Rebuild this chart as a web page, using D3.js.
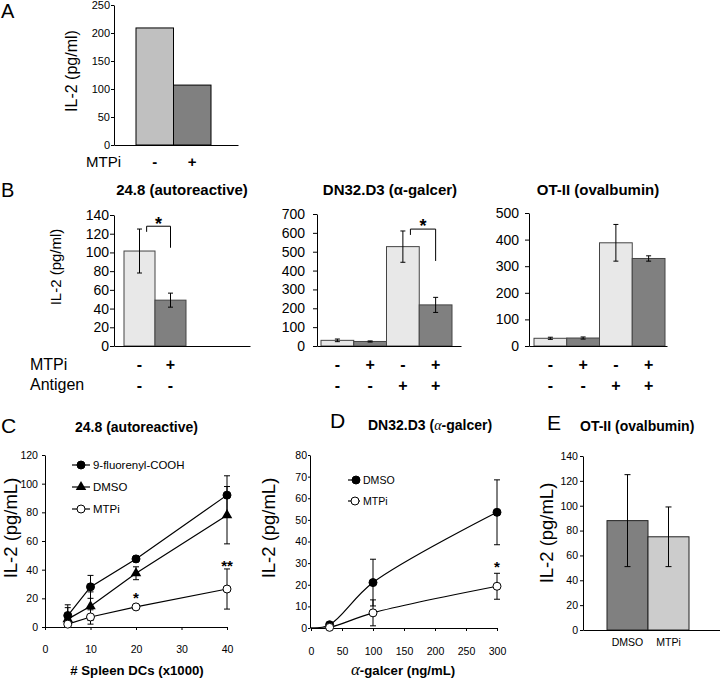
<!DOCTYPE html>
<html><head><meta charset="utf-8">
<script src="https://cdn.jsdelivr.net/npm/d3@7"></script>
<style>body{margin:0;background:#fff}</style>
</head><body><svg id="chart" width="720" height="683"></svg>
<script>
// ---------------- data ----------------
const aCategories = ["-", "+"];
const aValues = [209, 107];
const aTicks = [0, 50, 100, 150, 200, 250];

const bTitles = ["24.8 (autoreactive)", "DN32.D3 (α-galcer)", "OT-II (ovalbumin)"];
const b1MTPi = ["-", "+"];
const b1Antigen = ["-", "-"];
const b1Values = [101.5, 49];
const b1Errors = [23.5, 7.5];
const b1Ticks = [0, 20, 40, 60, 80, 100, 120, 140];
const b1Bracket = [128, 122, 105, 135]; // top, left end, right end, star

const b2MTPi = ["-", "+", "-", "+"];
const b2Antigen = ["-", "-", "+", "+"];
const b2Values = [30, 24, 527, 218];
const b2Errors = [7, 3, 83, 40];
const b2Ticks = [0, 100, 200, 300, 400, 500, 600, 700];
const b2Bracket = [620, 589, 451, 658];

const b3MTPi = ["-", "+", "-", "+"];
const b3Antigen = ["-", "-", "+", "+"];
const b3Values = [29, 30, 388, 329];
const b3Errors = [4, 4, 69, 10];
const b3Ticks = [0, 100, 200, 300, 400, 500];

const cSpleenDCs = [5, 10, 20, 40];
const cFluorenyl = [8, 28, 47.5, 92];
const cFluorenylErr = [7.5, 8, 2, 13.5];
const cDMSO = [5.5, 14.5, 37.5, 78];
const cDMSOErr = [8, 10, 4.5, 20];
const cMTPi = [2, 7, 14, 26.5];
const cMTPiErr = [2, 5, 1.5, 14];
const cXTicks = [0, 10, 20, 30, 40];
const cYTicks = [0, 20, 40, 60, 80, 100, 120];
const cStars = [{x: 20, y: 22.9, label: "*"}, {x: 40, y: 45.2, label: "**"}];

const dGalcer = [0, 30, 100, 300];
const dDMSO = [0, 1.5, 21, 53.5];
const dDMSOErr = [0, 1, 10.8, 15];
const dMTPi = [0, 0.3, 7, 19.3];
const dMTPiErr = [0, 0.5, 6, 6];
const dXTicks = [0, 50, 100, 150, 200, 250, 300];
const dYTicks = [0, 10, 20, 30, 40, 50, 60, 70, 80];
const dStars = [{x: 300, y: 30.2, label: "*"}];

const eCategories = ["DMSO", "MTPi"];
const eValues = [88, 75];
const eErrors = [37, 24];
const eTicks = [0, 20, 40, 60, 80, 100, 120, 140];

// ---------------- setup ----------------
const SANS = '"Liberation Sans", Arial, sans-serif';
const hasNarrow = (() => {
  const c = document.createElement("canvas").getContext("2d");
  c.font = '20px "Liberation Sans Narrow", monospace';
  const w1 = c.measureText("abcdefghijklm").width;
  c.font = '20px monospace';
  const w2 = c.measureText("abcdefghijklm").width;
  return Math.abs(w1 - w2) > 0.5;
})();
const NARROW = hasNarrow ? '"Liberation Sans Narrow", "Arial Narrow", sans-serif' : SANS;
const NS = hasNarrow ? 1 : 0.88; // size factor if narrow font missing

const LIGHT_A = "#c0c0c0", DARK = "#808080", LIGHT_B = "#e8e8e8", LIGHT_E = "#cccccc";
const svg = d3.select("#chart");
svg.append("rect").attr("width", 720).attr("height", 683).attr("fill", "#fff");

function txt(g, x, y, s, o = {}) {
  const t = g.append("text").attr("x", x).attr("y", y).text(s)
    .attr("font-family", o.font || SANS).attr("font-size", o.size || 12)
    .attr("font-weight", o.weight || "normal").attr("fill", "#000")
    .attr("text-anchor", o.anchor || "start");
  return t;
}
function rotLabel(g, x, y, s, o) {
  return g.append("text").attr("transform", `translate(${x},${y}) rotate(-90)`)
    .attr("text-anchor", "middle").attr("font-family", o.font || SANS)
    .attr("font-size", o.size).attr("fill", "#000").text(s);
}
function styleAxis(sel, font, size) {
  sel.attr("font-family", font).attr("font-size", size);
  sel.select(".domain").attr("stroke", "#000");
  sel.selectAll(".tick line").attr("stroke", "#000");
  sel.selectAll(".tick text").attr("fill", "#000");
  return sel;
}
function yAxis(g, scale, x, ticks, tickSize, pad, font, size) {
  const ax = d3.axisLeft(scale).tickValues(ticks).tickSize(tickSize).tickSizeOuter(0).tickPadding(pad);
  return styleAxis(g.append("g").attr("transform", `translate(${x},0)`).call(ax), font, size);
}
function baseLine(g, x0, x1, y) {
  const s = d3.scaleLinear().domain([0, 1]).range([x0, x1]);
  const ax = d3.axisBottom(s).tickValues([]).tickSizeOuter(0);
  styleAxis(g.append("g").attr("transform", `translate(0,${y})`).call(ax), SANS, 10);
}
function bars(g, band, y, values, errors, colors, stroke, capW) {
  const idx = d3.range(values.length);
  g.selectAll(null).data(idx).join("rect")
    .attr("x", i => band(i)).attr("width", band.bandwidth())
    .attr("y", i => y(values[i])).attr("height", i => y(0) - y(values[i]))
    .attr("fill", i => colors[i]).attr("stroke", stroke).attr("stroke-width", 1);
  if (errors) {
    const cx = i => band(i) + band.bandwidth() / 2;
    g.selectAll(null).data(idx).join("path")
      .attr("d", i => {
        const t = y(values[i] + errors[i]), b = y(values[i] - errors[i]), c = cx(i);
        return `M${c},${t}V${b}M${c - capW},${t}H${c + capW}M${c - capW},${b}H${c + capW}`;
      })
      .attr("stroke", "#000").attr("stroke-width", 1).attr("fill", "none");
  }
}
function bracket(g, band, y, br, i0, i1) {
  const xl = band(i0) + band.bandwidth() * 0.73, xr = band(i1) + band.bandwidth() / 2;
  g.append("path").attr("d", `M${xl},${y(br[1])}V${y(br[0])}H${xr}V${y(br[2])}`)
    .attr("stroke", "#000").attr("fill", "none").attr("stroke-width", 1);
  txt(g, (xl + xr) / 2, y(br[3]) + 10.5, "*", {size: 18, weight: "bold", anchor: "middle"});
}

// ---------------- Panel A ----------------
{
  const g = svg.append("g");
  const y = d3.scaleLinear().domain([0, 250]).range([145, 5]);
  const band = d3.scaleBand().domain(d3.range(aValues.length)).range([136, 211]).padding(0);
  txt(g, 1, 18, "A", {size: 20});
  bars(g, band, y, aValues, null, [LIGHT_A, DARK], "#000", 0);
  yAxis(g, y, 114, aTicks, 3, 1, SANS, 11);
  baseLine(g, 114, 238, 145);
  rotLabel(g, 77, 71, "IL-2 (pg/ml)", {size: 16});
  txt(g, 86, 167, "MTPi", {size: 15});
  aCategories.forEach((c, i) => txt(g, band(i) + band.bandwidth() / 2, 167, c, {size: 15, weight: "bold", anchor: "middle"}));
}

// ---------------- Panel B ----------------
txt(svg, 1, 197, "B", {size: 20});
function bPanel(o) {
  const g = svg.append("g");
  const y = d3.scaleLinear().domain([0, o.ticks[o.ticks.length - 1]]).range([346, o.top]);
  const band = d3.scaleBand().domain(d3.range(o.values.length)).range(o.band).padding(0);
  txt(g, o.titleX, 195, o.title, {size: 15, weight: "bold", anchor: "middle"});
  bars(g, band, y, o.values, o.errors, o.values.map((v, i) => i % 2 ? DARK : LIGHT_B), "#444", 2.5);
  yAxis(g, y, o.axisX, o.ticks, 4, o.pad, SANS, 14);
  baseLine(g, o.axisX, o.axisEnd, 346);
  if (o.bracket) bracket(g, band, y, o.bracket, o.bi[0], o.bi[1]);
  o.mtpi.forEach((c, i) => txt(g, band(i) + band.bandwidth() / 2, 370, c, {size: 16, weight: "bold", anchor: "middle"}));
  o.antigen.forEach((c, i) => txt(g, band(i) + band.bandwidth() / 2, 391, c, {size: 16, weight: "bold", anchor: "middle"}));
  return g;
}
{
  const g = bPanel({title: bTitles[0], titleX: 182, ticks: b1Ticks, top: 215, values: b1Values, errors: b1Errors,
    band: [124, 186], axisX: 114, axisEnd: 250, pad: 1, bracket: b1Bracket, bi: [0, 1], mtpi: b1MTPi, antigen: b1Antigen});
  rotLabel(g, 61, 267, "IL-2 (pg/ml)", {size: 15});
  txt(g, 30, 370, "MTPi", {size: 16});
  txt(g, 30, 390, "Antigen", {size: 16});
}
bPanel({title: bTitles[1], titleX: 390, ticks: b2Ticks, top: 214, values: b2Values, errors: b2Errors,
  band: [321, 452], axisX: 317, axisEnd: 461, pad: 8, bracket: b2Bracket, bi: [2, 3], mtpi: b2MTPi, antigen: b2Antigen});
bPanel({title: bTitles[2], titleX: 598, ticks: b3Ticks, top: 213, values: b3Values, errors: b3Errors,
  band: [534, 665], axisX: 529, axisEnd: 667, pad: 6, bracket: null, mtpi: b3MTPi, antigen: b3Antigen});

// ---------------- markers ----------------
function marker(g, kind, x, y) {
  if (kind === "tri") {
    g.append("path").attr("d", d3.symbol(d3.symbolTriangle, 48)()).attr("transform", `translate(${x},${y})`).attr("fill", "#000");
  } else {
    g.append("circle").attr("cx", x).attr("cy", y).attr("r", 4)
      .attr("fill", kind === "open" ? "#fff" : "#000").attr("stroke", "#000").attr("stroke-width", 1);
  }
}
function series(g, x, y, xs, vals, errs, kind, curve, skipZero) {
  const pts = xs.map((v, i) => [x(v), y(vals[i])]);
  g.append("path").attr("d", d3.line().curve(curve)(pts)).attr("fill", "none").attr("stroke", "#000").attr("stroke-width", 1.2);
  xs.forEach((v, i) => {
    if (skipZero && v === 0) return;
    const cx = x(v), t = y(vals[i] + errs[i]), b = y(Math.max(0, vals[i] - errs[i]));
    if (errs[i] > 0.8) g.append("path").attr("d", `M${cx},${t}V${b}M${cx - 3},${t}H${cx + 3}M${cx - 3},${b}H${cx + 3}`)
      .attr("stroke", "#000").attr("fill", "none");
  });
  xs.forEach((v, i) => { if (!(skipZero && v === 0)) marker(g, kind, x(v), y(vals[i])); });
}
function legend(g, x0, x1, xm, yy, kind, label, size) {
  g.append("line").attr("x1", x0).attr("x2", x1).attr("y1", yy).attr("y2", yy).attr("stroke", "#000").attr("stroke-width", 1.2);
  marker(g, kind, xm, yy);
  txt(g, x1 + 3, yy + size * 0.36, label, {font: NARROW, size: size});
}

// ---------------- Panel C ----------------
{
  const g = svg.append("g");
  const x = d3.scaleLinear().domain([0, 40]).range([45, 227]);
  const y = d3.scaleLinear().domain([0, 120]).range([627, 455]);
  txt(g, 1, 433, "C", {font: NARROW, size: 24 * NS});
  txt(g, 75, 432, "24.8 (autoreactive)", {size: 14, weight: "bold"});
  yAxis(g, y, 45, cYTicks, 3, 4, NARROW, 12 * NS);
  const ax = d3.axisBottom(x).tickValues(cXTicks).tickSize(3).tickSizeOuter(0).tickPadding(16);
  styleAxis(g.append("g").attr("transform", "translate(0,627)").call(ax), NARROW, 12 * NS);
  series(g, x, y, cSpleenDCs, cFluorenyl, cFluorenylErr, "fill", d3.curveLinear);
  series(g, x, y, cSpleenDCs, cDMSO, cDMSOErr, "tri", d3.curveLinear);
  series(g, x, y, cSpleenDCs, cMTPi, cMTPiErr, "open", d3.curveLinear);
  legend(g, 72, 90, 81, 465, "fill", "9-fluorenyl-COOH", 13 * NS);
  legend(g, 72, 90, 81, 487, "tri", "DMSO", 13 * NS);
  legend(g, 72, 90, 81, 509, "open", "MTPi", 13 * NS);
  cStars.forEach(s => txt(g, x(s.x), y(s.y) + 9, s.label, {size: 15, weight: "bold", anchor: "middle"}));
  rotLabel(g, 17, 528, "IL-2 (pg/mL)", {font: NARROW, size: 21 * NS});
  txt(g, 137, 675, "# Spleen DCs (x1000)", {font: NARROW, size: 15 * NS, weight: "bold", anchor: "middle"});
}

// ---------------- Panel D ----------------
{
  const g = svg.append("g");
  const x = d3.scaleLinear().domain([0, 300]).range([311, 497]);
  const y = d3.scaleLinear().domain([0, 80]).range([628, 455]);
  txt(g, 330, 428, "D", {font: NARROW, size: 24 * NS});
  const t = txt(g, 368, 430, "", {size: 14, weight: "bold"});
  t.append("tspan").text("DN32.D3 (");
  t.append("tspan").attr("font-family", '"Liberation Serif", serif').attr("font-weight", "normal").attr("font-style", "italic").text("α");
  t.append("tspan").text("-galcer)");
  yAxis(g, y, 310, dYTicks, 2, 1, NARROW, 12 * NS);
  const ax = d3.axisBottom(x).tickValues(dXTicks).tickSize(3).tickSizeOuter(0).tickPadding(17);
  styleAxis(g.append("g").attr("transform", "translate(0,628)").call(ax), NARROW, 12 * NS);
  series(g, x, y, dGalcer, dDMSO, dDMSOErr, "fill", d3.curveCatmullRom.alpha(0.5), true);
  series(g, x, y, dGalcer, dMTPi, dMTPiErr, "open", d3.curveCatmullRom.alpha(0.5), true);
  legend(g, 348, 360, 356, 480, "fill", "DMSO", 12 * NS);
  legend(g, 348, 360, 355, 501, "open", "MTPi", 12 * NS);
  dStars.forEach(s => txt(g, x(s.x), y(s.y) + 9, s.label, {size: 15, weight: "bold", anchor: "middle"}));
  rotLabel(g, 275, 528, "IL-2 (pg/mL)", {font: NARROW, size: 21 * NS});
  const xl = txt(g, 403, 675, "", {font: NARROW, size: 15 * NS, weight: "bold", anchor: "middle"});
  xl.append("tspan").attr("font-family", '"Liberation Serif", serif').attr("font-weight", "normal").attr("font-style", "italic").attr("font-size", 17).text("α");
  xl.append("tspan").text("-galcer (ng/mL)");
}

// ---------------- Panel E ----------------
{
  const g = svg.append("g");
  const y = d3.scaleLinear().domain([0, 140]).range([630, 456]);
  const band = d3.scaleBand().domain(eCategories).range([607, 689]).padding(0);
  txt(g, 547, 430, "E", {font: NARROW, size: 24 * NS});
  txt(g, 580, 431, "OT-II (ovalbumin)", {size: 14, weight: "bold"});
  const bandI = d3.scaleBand().domain(d3.range(eValues.length)).range([607, 689]).padding(0);
  bars(g, bandI, y, eValues, eErrors, [DARK, LIGHT_E], "#222", 3);
  yAxis(g, y, 583, eTicks, 3, 2, NARROW, 12 * NS);
  baseLine(g, 583, 720, 630);
  eCategories.forEach(c => txt(g, band(c) + band.bandwidth() / 2, 646, c, {font: NARROW, size: 12 * NS, anchor: "middle"}));
  rotLabel(g, 553, 533, "IL-2 (pg/mL)", {font: NARROW, size: 21 * NS});
}
</script></body></html>
